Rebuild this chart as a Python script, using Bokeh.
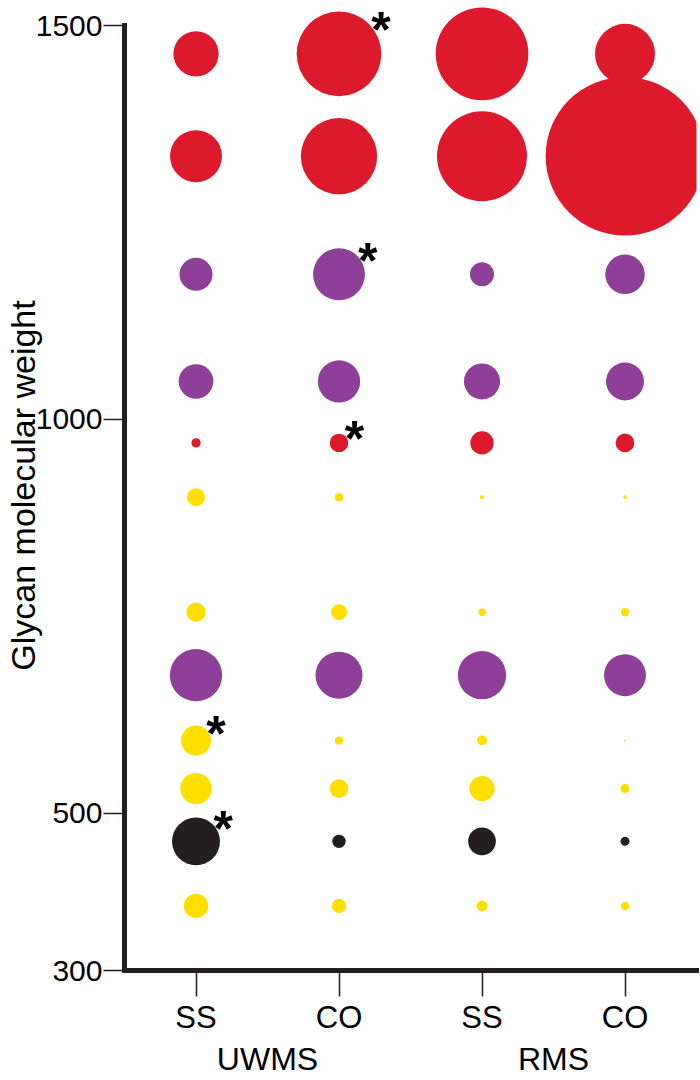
import math
from bokeh.plotting import figure
from bokeh.models import FactorRange, Range1d, FixedTicker, ColumnDataSource
from bokeh.core.properties import value
from bokeh.embed import file_html
from bokeh.resources import INLINE

# ---------------- data ----------------
groups = ["UWMS", "UWMS", "RMS", "RMS"]
conditions = ["SS", "CO", "SS", "CO"]
y_ticks = [300, 500, 1000, 1500]
y_title = "Glycan molecular weight"

# glycan molecular weights (one row of bubbles each)
weights = [1464, 1334, 1184, 1048, 970, 901, 755, 675, 592, 531, 464, 382]
# colour class of each glycan row
glycan_class = ["red", "red", "purple", "purple", "red", "yellow",
                "yellow", "purple", "yellow", "yellow", "black", "yellow"]

# relative abundance (bubble area) per sample, in order of `weights`
uwms_ss = [20.5, 27.0, 10.9, 12.0, 0.86, 3.24, 3.72, 27.4, 9.0, 9.8, 23.0, 5.9]
uwms_co = [71.7, 58.2, 27.0, 17.9, 3.42, 0.74, 2.53, 22.1, 0.69, 3.46, 1.80, 1.99]
rms_ss = [85.9, 81.0, 5.76, 13.0, 5.43, 0.17, 0.58, 23.3, 1.0, 6.4, 7.67, 1.21]
rms_co = [36.0, 251.9, 15.6, 14.4, 3.50, 0.14, 0.69, 17.6, 0.04, 0.81, 0.81, 0.69]

# significant differences: (weight index, sample index)
significant = [(0, 1), (2, 1), (4, 1), (8, 0), (10, 0)]

# ---------------- style ----------------
palette = {"red": "#dd1a2b", "purple": "#8e3f98", "yellow": "#ffde00", "black": "#231f20"}
FONT = "Liberation Sans"
INK = "#231f20"
SIZE_SCALE = 10.0
STAR_FS = 50

samples = [uwms_ss, uwms_co, rms_ss, rms_co]
factors = list(zip(groups, conditions))

xs, ys, sizes, colors = [], [], [], []
for j, vals in enumerate(samples):
    for i, v in enumerate(vals):
        xs.append(factors[j])
        ys.append(weights[i])
        sizes.append(SIZE_SCALE * math.sqrt(v))
        colors.append(palette[glycan_class[i]])
src = ColumnDataSource(dict(x=xs, y=ys, size=sizes, color=colors))

sx, sy, sxo, syo = [], [], [], []
for (i, j) in significant:
    r = SIZE_SCALE * math.sqrt(samples[j][i]) / 2
    sx.append(factors[j])
    sy.append(weights[i])
    sxo.append(0.8 * r + 8)
    syo.append(-(0.6 * r + 5) + 0.14 * STAR_FS)
star_src = ColumnDataSource(dict(x=sx, y=sy, xo=sxo, yo=syo, t=["*"] * len(sx)))

p = figure(
    width=700, height=1080,
    x_range=FactorRange(*factors, group_padding=0, factor_padding=0, range_padding=0),
    y_range=Range1d(300, 1531.75),
    output_backend="svg", toolbar_location=None,
    min_border_left=124, min_border_right=4, min_border_top=0, min_border_bottom=110,
)
p.outline_line_color = None
p.grid.visible = False
p.background_fill_color = "white"

p.scatter(x="x", y="y", size="size", fill_color="color", line_color=None, source=src)
p.text(x="x", y="y", text="t", x_offset="xo", y_offset="yo", source=star_src,
       text_font=value(FONT), text_font_style="bold", text_font_size=value(f"{STAR_FS}px"),
       text_align="center", text_baseline="middle", text_color="black")

# y axis
ya = p.yaxis[0]
ya.ticker = FixedTicker(ticks=y_ticks)
ya.bounds = (300, 1500)
ya.axis_label = y_title
ya.axis_label_text_font = FONT
ya.axis_label_text_font_style = "normal"
ya.axis_label_text_font_size = "34px"
ya.axis_label_text_color = "black"
ya.axis_label_standoff = -9
ya.major_label_text_font = FONT
ya.major_label_text_font_size = "30px"
ya.major_label_text_color = "black"
ya.major_label_standoff = 1
ya.major_tick_out = 21
ya.major_tick_in = 0
ya.major_tick_line_width = 1.5
ya.major_tick_line_color = INK
ya.minor_tick_out = 0
ya.minor_tick_in = 0
ya.axis_line_width = 5
ya.axis_line_color = INK
ya.axis_line_cap = "square"

# x axis
xa = p.xaxis[0]
xa.major_label_text_font = FONT
xa.major_label_text_font_size = "31px"
xa.major_label_text_color = "black"
xa.major_label_standoff = 3
xa.group_text_font = FONT
xa.group_text_font_size = "32px"
xa.group_text_font_style = "normal"
xa.group_text_color = "black"
xa.separator_line_alpha = 0
xa.major_tick_out = 26
xa.major_tick_in = 0
xa.major_tick_line_width = 1.5
xa.major_tick_line_color = INK
xa.axis_line_width = 5
xa.axis_line_color = INK
xa.axis_line_cap = "square"

open("out.html", "w").write(file_html(p, INLINE))
